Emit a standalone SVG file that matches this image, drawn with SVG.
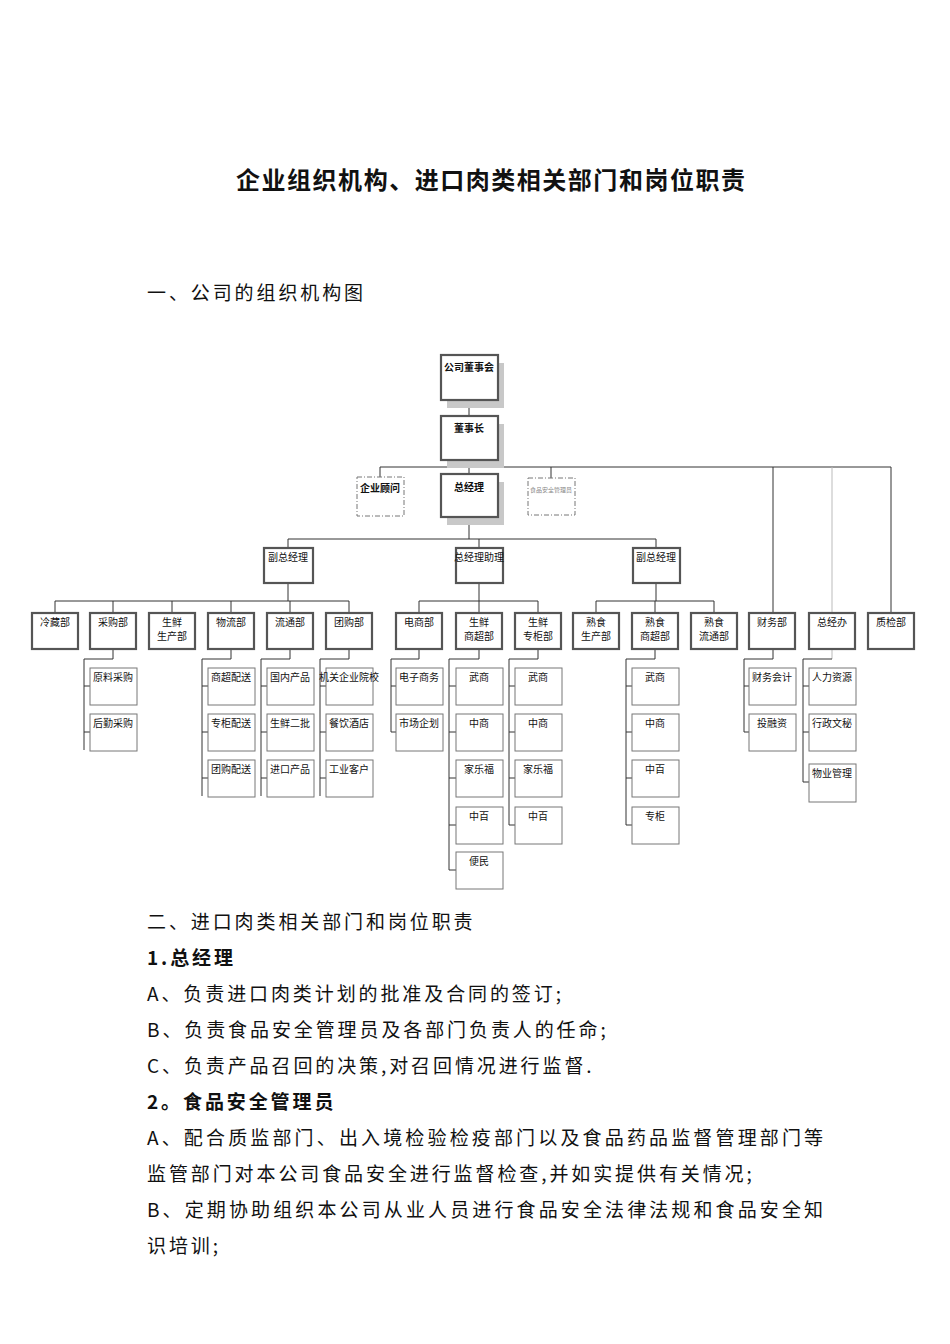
<svg xmlns="http://www.w3.org/2000/svg" width="950" height="1344" viewBox="0 0 950 1344">
<style>
text{font-family:"Noto Sans CJK SC","Liberation Serif",serif;fill:#111}
.t{font-size:10px;text-anchor:middle}
.b{font-weight:bold}
.p{fill:#fff;stroke:#555;stroke-width:2.2}
.c{fill:#fff;stroke:#777;stroke-width:1}
.d{fill:#fff;stroke:#777;stroke-width:1;stroke-dasharray:5,2,1,2}
.s{fill:#c8c8c8}
.body{font-size:19px;letter-spacing:2.9px}
.l{fill:none;stroke:#333;stroke-width:1}
.g{fill:none;stroke:#bbb;stroke-width:1}
</style>
<rect width="950" height="1344" fill="#fff"/>
<text x="236" y="189" font-size="24" font-weight="bold" textLength="509">企业组织机构、进口肉类相关部门和岗位职责</text>
<text x="147" y="300" class="body">一、公司的组织机构图</text>
<g id="connectors">
<path class="l" d="M469 400V416M469 460V474M380 467H891M380 467V477M551 467V478M773 467V613M891 467V613"/>
<path class="g" d="M832 467V613"/>
<path class="l" d="M469 517V539M288 539H656M288 539V548M479 539V548M656 539V548"/>
<path class="l" d="M288 583V601M55 601H349M55 601V613M113 601V613M172 601V613M231 601V613M290 601V613M349 601V613"/>
<path class="l" d="M479 583V601M419 601H538M419 601V613M479 601V613M538 601V613"/>
<path class="l" d="M656 583V601M596 601H714M596 601V613M655 601V613M714 601V613"/>
<path class="l" d="M113 649V659H84V750M84 686H90M84 732H90"/>
<path class="l" d="M231 649V659H202V796M202 686H208M202 732H208M202 778H208"/>
<path class="l" d="M290 649V659H261V796M261 686H267M261 732H267M261 778H267"/>
<path class="l" d="M349 649V659H320V796M320 686H326M320 732H326M320 778H326"/>
<path class="l" d="M419 649V659H391V732M391 686H396M391 732H396"/>
<path class="l" d="M479 649V659H449V870M449 686H456M449 732H456M449 778H456M449 825H456M449 870H456"/>
<path class="l" d="M538 649V659H509V825M509 686H515M509 732H515M509 778H515M509 825H515"/>
<path class="l" d="M655 649V659H626V825M626 686H632M626 732H632M626 778H632M626 825H632"/>
<path class="l" d="M773 649V659H744V732M744 686H749M744 732H749"/>
<path class="g" d="M832 649V659"/><path class="l" d="M832 659H803V782M803 686H809M803 732H809M803 782H809"/>
</g>
<g id="n-board"><rect class="s" x="447" y="363" width="57" height="45"/><rect class="p" x="441" y="355" width="57" height="45"/><text class="t b" x="469" y="371">公司董事会</text></g>
<g id="n-chair"><rect class="s" x="447" y="424" width="57" height="44"/><rect class="p" x="441" y="416" width="57" height="44"/><text class="t b" x="469" y="432">董事长</text></g>
<g id="n-adv"><rect class="d" x="357" y="477" width="47" height="39"/><text class="t b" x="380" y="492">企业顾问</text></g>
<g id="n-gm"><rect class="s" x="447" y="482" width="57" height="43"/><rect class="p" x="441" y="474" width="57" height="43"/><text class="t b" x="469" y="491">总经理</text></g>
<g id="n-food"><rect class="d" x="528" y="478" width="47" height="37"/><text x="551" y="492" font-size="6" text-anchor="middle" style="fill:#888">食品安全管理员</text></g>
<g id="n-vp1"><rect class="p" x="264" y="548" width="49" height="35"/><text class="t" x="288" y="561">副总经理</text></g>
<g id="n-ast"><rect class="p" x="456" y="548" width="47" height="35"/><text class="t" x="479" y="561">总经理助理</text></g>
<g id="n-vp2"><rect class="p" x="633" y="548" width="47" height="35"/><text class="t" x="656" y="561">副总经理</text></g>
<g id="n-p1"><rect class="p" x="32" y="613" width="46" height="36"/><text class="t" x="55" y="626">冷藏部</text></g>
<g id="n-p2"><rect class="p" x="90" y="613" width="46" height="36"/><text class="t" x="113" y="626">采购部</text></g>
<g id="n-p3"><rect class="p" x="149" y="613" width="46" height="36"/><text class="t" x="172" y="626">生鲜</text><text class="t" x="172" y="640">生产部</text></g>
<g id="n-p4"><rect class="p" x="208" y="613" width="46" height="36"/><text class="t" x="231" y="626">物流部</text></g>
<g id="n-p5"><rect class="p" x="267" y="613" width="46" height="36"/><text class="t" x="290" y="626">流通部</text></g>
<g id="n-p6"><rect class="p" x="326" y="613" width="46" height="36"/><text class="t" x="349" y="626">团购部</text></g>
<g id="n-p7"><rect class="p" x="396" y="613" width="46" height="36"/><text class="t" x="419" y="626">电商部</text></g>
<g id="n-p8"><rect class="p" x="456" y="613" width="46" height="36"/><text class="t" x="479" y="626">生鲜</text><text class="t" x="479" y="640">商超部</text></g>
<g id="n-p9"><rect class="p" x="515" y="613" width="46" height="36"/><text class="t" x="538" y="626">生鲜</text><text class="t" x="538" y="640">专柜部</text></g>
<g id="n-p10"><rect class="p" x="573" y="613" width="46" height="36"/><text class="t" x="596" y="626">熟食</text><text class="t" x="596" y="640">生产部</text></g>
<g id="n-p11"><rect class="p" x="632" y="613" width="46" height="36"/><text class="t" x="655" y="626">熟食</text><text class="t" x="655" y="640">商超部</text></g>
<g id="n-p12"><rect class="p" x="691" y="613" width="46" height="36"/><text class="t" x="714" y="626">熟食</text><text class="t" x="714" y="640">流通部</text></g>
<g id="n-p13"><rect class="p" x="749" y="613" width="46" height="36"/><text class="t" x="772" y="626">财务部</text></g>
<g id="n-p14"><rect class="p" x="809" y="613" width="46" height="36"/><text class="t" x="832" y="626">总经办</text></g>
<g id="n-p15"><rect class="p" x="868" y="613" width="46" height="36"/><text class="t" x="891" y="626">质检部</text></g>
<g id="n-c1"><rect class="c" x="90" y="668" width="47" height="37"/><text class="t" x="113" y="681">原料采购</text></g>
<g id="n-c2"><rect class="c" x="90" y="714" width="47" height="37"/><text class="t" x="113" y="727">后勤采购</text></g>
<g id="n-c3"><rect class="c" x="208" y="668" width="47" height="37"/><text class="t" x="231" y="681">商超配送</text></g>
<g id="n-c4"><rect class="c" x="208" y="714" width="47" height="37"/><text class="t" x="231" y="727">专柜配送</text></g>
<g id="n-c5"><rect class="c" x="208" y="760" width="47" height="37"/><text class="t" x="231" y="773">团购配送</text></g>
<g id="n-c6"><rect class="c" x="267" y="668" width="47" height="37"/><text class="t" x="290" y="681">国内产品</text></g>
<g id="n-c7"><rect class="c" x="267" y="714" width="47" height="37"/><text class="t" x="290" y="727">生鲜二批</text></g>
<g id="n-c8"><rect class="c" x="267" y="760" width="47" height="37"/><text class="t" x="290" y="773">进口产品</text></g>
<g id="n-c9"><rect class="c" x="326" y="668" width="47" height="37"/><text class="t" x="349" y="681">机关企业院校</text></g>
<g id="n-c10"><rect class="c" x="326" y="714" width="47" height="37"/><text class="t" x="349" y="727">餐饮酒店</text></g>
<g id="n-c11"><rect class="c" x="326" y="760" width="47" height="37"/><text class="t" x="349" y="773">工业客户</text></g>
<g id="n-c12"><rect class="c" x="396" y="668" width="47" height="37"/><text class="t" x="419" y="681">电子商务</text></g>
<g id="n-c13"><rect class="c" x="396" y="714" width="47" height="37"/><text class="t" x="419" y="727">市场企划</text></g>
<g id="n-c14"><rect class="c" x="456" y="668" width="47" height="37"/><text class="t" x="479" y="681">武商</text></g>
<g id="n-c15"><rect class="c" x="456" y="714" width="47" height="37"/><text class="t" x="479" y="727">中商</text></g>
<g id="n-c16"><rect class="c" x="456" y="760" width="47" height="37"/><text class="t" x="479" y="773">家乐福</text></g>
<g id="n-c17"><rect class="c" x="456" y="807" width="47" height="37"/><text class="t" x="479" y="820">中百</text></g>
<g id="n-c18"><rect class="c" x="456" y="852" width="47" height="37"/><text class="t" x="479" y="865">便民</text></g>
<g id="n-c19"><rect class="c" x="515" y="668" width="47" height="37"/><text class="t" x="538" y="681">武商</text></g>
<g id="n-c20"><rect class="c" x="515" y="714" width="47" height="37"/><text class="t" x="538" y="727">中商</text></g>
<g id="n-c21"><rect class="c" x="515" y="760" width="47" height="37"/><text class="t" x="538" y="773">家乐福</text></g>
<g id="n-c22"><rect class="c" x="515" y="807" width="47" height="37"/><text class="t" x="538" y="820">中百</text></g>
<g id="n-c23"><rect class="c" x="632" y="668" width="47" height="37"/><text class="t" x="655" y="681">武商</text></g>
<g id="n-c24"><rect class="c" x="632" y="714" width="47" height="37"/><text class="t" x="655" y="727">中商</text></g>
<g id="n-c25"><rect class="c" x="632" y="760" width="47" height="37"/><text class="t" x="655" y="773">中百</text></g>
<g id="n-c26"><rect class="c" x="632" y="807" width="47" height="37"/><text class="t" x="655" y="820">专柜</text></g>
<g id="n-c27"><rect class="c" x="749" y="668" width="47" height="37"/><text class="t" x="772" y="681">财务会计</text></g>
<g id="n-c28"><rect class="c" x="749" y="714" width="47" height="37"/><text class="t" x="772" y="727">投融资</text></g>
<g id="n-c29"><rect class="c" x="809" y="668" width="47" height="37"/><text class="t" x="832" y="681">人力资源</text></g>
<g id="n-c30"><rect class="c" x="809" y="714" width="47" height="37"/><text class="t" x="832" y="727">行政文秘</text></g>
<g id="n-c31"><rect class="c" x="809" y="764" width="47" height="38"/><text class="t" x="832" y="777">物业管理</text></g>
<g id="body">
<text x="147" y="929" class="body">二、进口肉类相关部门和岗位职责</text>
<text x="147" y="965" class="body" font-weight="bold">1.总经理</text>
<text x="147" y="1001" class="body">A、负责进口肉类计划的批准及合同的签订;</text>
<text x="147" y="1037" class="body">B、负责食品安全管理员及各部门负责人的任命;</text>
<text x="147" y="1073" class="body">C、负责产品召回的决策,对召回情况进行监督.</text>
<text x="147" y="1109" class="body" font-weight="bold">2。食品安全管理员</text>
<text x="147" y="1145" class="body" textLength="679">A、配合质监部门、出入境检验检疫部门以及食品药品监督管理部门等</text>
<text x="147" y="1181" class="body">监管部门对本公司食品安全进行监督检查,并如实提供有关情况;</text>
<text x="147" y="1217" class="body" textLength="679">B、定期协助组织本公司从业人员进行食品安全法律法规和食品安全知</text>
<text x="147" y="1253" class="body">识培训;</text>
</g>
</svg>
